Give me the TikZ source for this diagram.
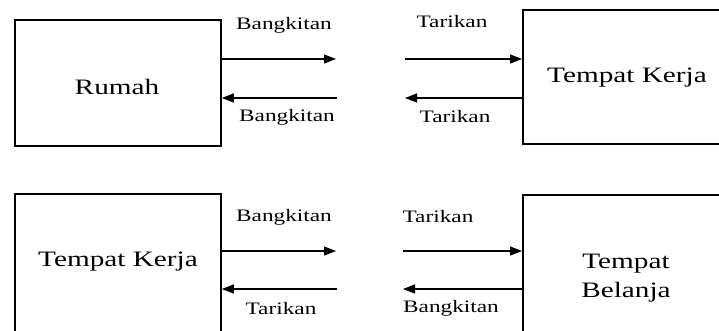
\documentclass[tikz,border=0pt]{standalone}
\usepackage{fontspec}
\setmainfont{Liberation Serif}[FakeStretch=1.33]
\usetikzlibrary{arrows.meta}
\begin{document}
\begin{tikzpicture}[x=1pt,y=-1pt,
  box/.style={draw=black,line width=1.8pt,anchor=north west,inner sep=0pt},
  arr/.style={line width=1.2pt,-{Triangle[length=12pt,width=9pt]}},
  lbl/.style={inner sep=0pt,font=\fontsize{17.5}{20}\selectfont},
  big/.style={inner sep=0pt,align=center,font=\fontsize{22}{29}\selectfont}]
\clip (0,0) rectangle (719,331);
\fill[white] (0,0) rectangle (719,331);
% top row
\node[box,minimum width=206pt,minimum height=126pt] (rumah) at (14,19) {};
\node[box,minimum width=230pt,minimum height=134pt] (kerjaA) at (522,9) {};
\node[big] (trumah) at (117,87) {Rumah};
\node[big] (tkerjaA) at (627,78) {Tempat Kerja};
\coordinate (a1) at (336,59);
\coordinate (a2) at (337,98);
\coordinate (a3) at (405,59);
\coordinate (a4) at (405,98);
\draw[arr] (rumah.east |- a1) -- (a1);
\draw[arr] (a2) -- (rumah.east |- a2);
\draw[arr] (a3) -- (kerjaA.west |- a3);
\draw[arr] (kerjaA.west |- a4) -- (a4);
\node[lbl] (l1) at (284,25) {Bangkitan};
\node[lbl] (l2) at (287,117) {Bangkitan};
\node[lbl] (l3) at (452,22) {Tarikan};
\node[lbl] (l4) at (455,117) {Tarikan};
% bottom row
\node[box,minimum width=206pt,minimum height=160pt] (kerjaB) at (14,193) {};
\node[box,minimum width=230pt,minimum height=160pt] (belanja) at (522,194) {};
\node[big] (tkerjaB) at (118,262) {Tempat Kerja};
\node[big] (tbelanja) at (626,278) {Tempat\\Belanja};
\coordinate (b1) at (336,251);
\coordinate (b2) at (337,289);
\coordinate (b3) at (403,251);
\coordinate (b4) at (403,289);
\draw[arr] (kerjaB.east |- b1) -- (b1);
\draw[arr] (b2) -- (kerjaB.east |- b2);
\draw[arr] (b3) -- (belanja.west |- b3);
\draw[arr] (belanja.west |- b4) -- (b4);
\node[lbl] (m1) at (284,217) {Bangkitan};
\node[lbl] (m2) at (281,309) {Tarikan};
\node[lbl] (m3) at (438,217) {Tarikan};
\node[lbl] (m4) at (451,308) {Bangkitan};
\end{tikzpicture}
\end{document}
